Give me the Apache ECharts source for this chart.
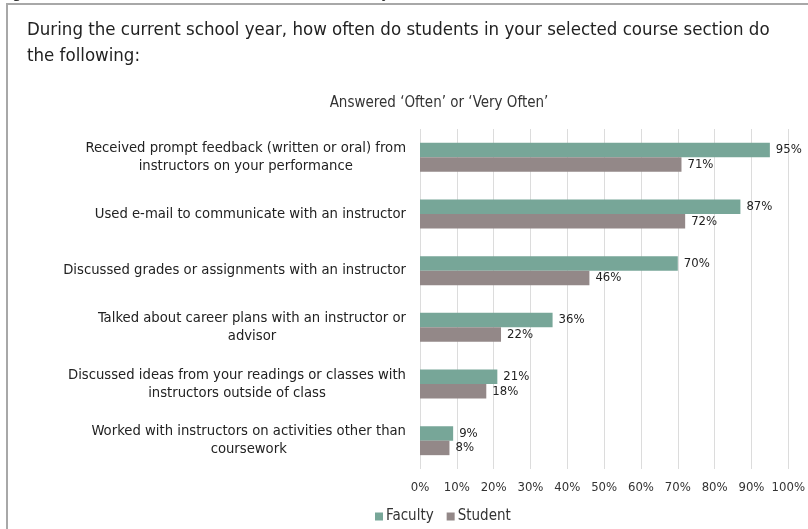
<!DOCTYPE html>
<html>
<head>
<meta charset="utf-8">
<script src="https://cdn.jsdelivr.net/npm/echarts@6/dist/echarts.min.js"></script>
<style>
html,body{margin:0;padding:0;background:#fff;}
#chart{width:808px;height:529px;}
</style>
</head>
<body>
<div id="chart"></div>
<script>
var categories = [
  'Received prompt feedback (written or oral) from\ninstructors on your performance',
  'Used e-mail to communicate with an instructor',
  'Discussed grades or assignments with an instructor',
  'Talked about career plans with an instructor or\nadvisor',
  'Discussed ideas from your readings or classes with\ninstructors outside of class',
  'Worked with instructors on activities other than\ncoursework'
];
var facultyValues = [95, 87, 70, 36, 21, 9];
var studentValues = [71, 72, 46, 22, 18, 8];
var seriesNames = ['Faculty', 'Student'];
var titleText = 'During the current school year, how often do students in your selected course section do\nthe following:';
var subtitleText = 'Answered \u2018Often\u2019 or \u2018Very Often\u2019';

var FONT = "'DejaVu Sans Condensed', 'DejaVu Sans', sans-serif";
var chart = echarts.init(document.getElementById('chart'), null, {renderer: 'canvas'});
chart.setOption({
  backgroundColor: '#ffffff',
  animation: false,
  textStyle: {fontFamily: FONT},
  title: [
    {text: titleText, left: 22, top: 12,
     textStyle: {fontSize: 18.5, fontWeight: 'normal', color: '#222', lineHeight: 26, fontFamily: FONT}},
    {text: subtitleText, left: 434, top: 91, textAlign: 'center',
     textStyle: {fontSize: 15, fontWeight: 'normal', color: '#333', fontFamily: FONT}}
  ],
  graphic: [
    {type: 'rect', shape: {x: 7, y: 4, width: 900, height: 600},
     style: {fill: 'none', stroke: '#a8a8a8', lineWidth: 2}, silent: true, z: 10},
    {type: 'text', left: 12, top: -17, silent: true,
     style: {text: 'g', font: "18px 'DejaVu Sans Condensed'", fill: '#333'}},
    {type: 'text', left: 381, top: -17, silent: true,
     style: {text: 'y', font: "18px 'DejaVu Sans Condensed'", fill: '#333'}}
  ],
  legend: {
    data: seriesNames, bottom: 0, left: 370, itemWidth: 8, itemHeight: 8, itemGap: 13,
    icon: 'rect',
    textStyle: {fontSize: 15, color: '#333', fontFamily: FONT, padding: [0, 0, 0, -2]}
  },
  grid: {left: 420, right: 13, top: 129, bottom: 60, containLabel: false},
  xAxis: {
    type: 'value', min: 0, max: 100, interval: 10,
    axisLine: {show: false}, axisTick: {show: false},
    splitLine: {show: true, lineStyle: {color: '#dcdcdc', width: 1}},
    axisLabel: {formatter: '{value}%', fontSize: 13, color: '#333', margin: 12, fontFamily: FONT}
  },
  yAxis: {
    type: 'category', data: categories, inverse: true,
    axisLine: {show: false}, axisTick: {show: false},
    axisLabel: {
      margin: 14, color: '#222', fontSize: 14.7,
      formatter: function (v) { return v.split('\n').map(function (l) { return '{c|' + l + '}'; }).join('\n'); },
      rich: {c: {align: 'center', fontSize: 14.7, lineHeight: 18, color: '#222', fontFamily: FONT}}
    }
  },
  series: [
    {name: seriesNames[0], type: 'bar', data: facultyValues, barWidth: 14.5, barGap: '0%',
     itemStyle: {color: '#77a698'},
     label: {show: true, position: 'right', distance: 6, formatter: '{c}%', fontSize: 13, color: '#222', fontFamily: FONT}},
    {name: seriesNames[1], type: 'bar', data: studentValues, barWidth: 14.5, barGap: '0%',
     itemStyle: {color: '#938888'},
     label: {show: true, position: 'right', distance: 6, formatter: '{c}%', fontSize: 13, color: '#222', fontFamily: FONT}}
  ]
});
</script>
</body>
</html>
